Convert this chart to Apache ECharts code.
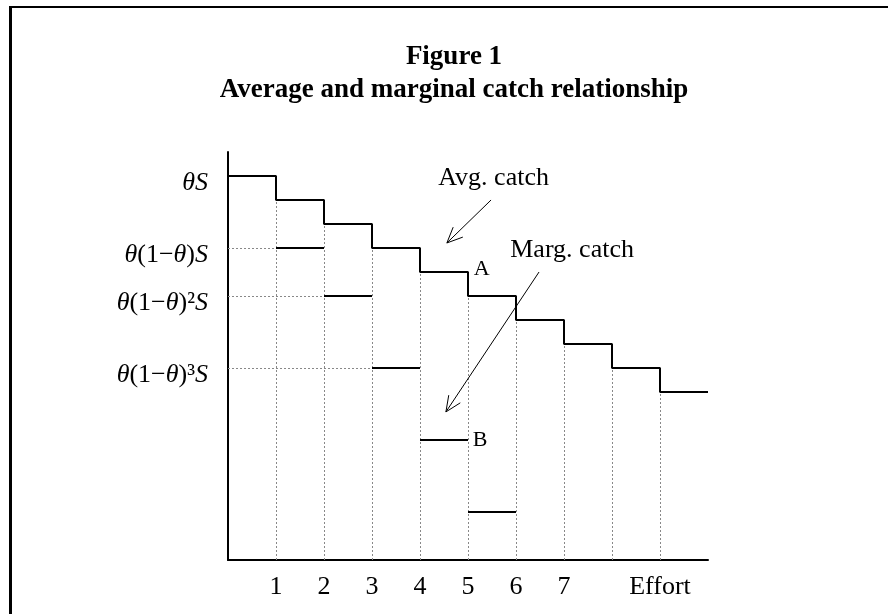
<!DOCTYPE html>
<html>
<head>
<meta charset="utf-8">
<script src="https://cdn.jsdelivr.net/npm/echarts@6/dist/echarts.min.js"></script>
<style>html,body{margin:0;padding:0;background:#fff;}#c{width:888px;height:614px;}</style>
</head>
<body>
<div id="c"></div>
<script>
// ---- data (arbitrary vertical units) ----
// average catch level on each effort interval [0-1], [1-2], ... [9-10]
var avgCatch = [16, 15, 14, 13, 12, 11, 10, 9, 8, 7];
// marginal catch level on intervals starting at effort 1,2,3,4,5
var margStart = [1, 2, 3, 4, 5];
var margCatch = [13, 11, 8, 5, 2];
// y tick labels (i = italic, r = upright)
var yTickValues = [16, 13, 11, 8];
var yTickLabels = [
  '{i|θS}',
  '{i|θ}{r|(1−}{i|θ}{r|)}{i|S}',
  '{i|θ}{r|(1−}{i|θ}{r|)²}{i|S}',
  '{i|θ}{r|(1−}{i|θ}{r|)³}{i|S}'
];
// x tick labels
var xTickValues = [1, 2, 3, 4, 5, 6, 7, 9];
var xTickLabels = ['1', '2', '3', '4', '5', '6', '7', 'Effort'];
// annotations (data coordinates)
var noteTexts = [
  {pos: [4.38, 15.92], text: 'Avg. catch', size: 26},
  {pos: [5.88, 12.92], text: 'Marg. catch', size: 26},
  {pos: [5.12, 12.10], text: 'A', size: 22},
  {pos: [5.10, 5.00], text: 'B', size: 22}
];
var noteArrows = [
  [5.48, 15.0, 4.56, 13.21],
  [6.48, 12.0, 4.54, 6.17]
];

var SERIF = '"Liberation Serif", "Times New Roman", serif';

// build step line points
var avgPts = [];
avgCatch.forEach(function (v, i) { avgPts.push([i, v]); avgPts.push([i + 1, v]); });
// marginal segments
var margSegs = margCatch.map(function (v, i) {
  return {coords: [[margStart[i], v], [margStart[i] + 1, v]]};
});
// vertical guides at each effort step
var vGuides = [];
for (var i = 1; i < avgCatch.length; i++) {
  vGuides.push({coords: [[i, 0], [i, avgCatch[i]]]});
}
// horizontal guides from axis to the labelled marginal segments
var hGuides = [];
for (var k = 0; k < 3; k++) {
  hGuides.push({coords: [[0, margCatch[k]], [margStart[k], margCatch[k]]]});
}

var chart = echarts.init(document.getElementById('c'), null, {renderer: 'canvas'});
chart.setOption({
  animation: false,
  backgroundColor: '#fff',
  title: {
    text: 'Figure 1\nAverage and marginal catch relationship',
    left: 449, top: 36, textAlign: 'center',
    textStyle: {fontFamily: SERIF, fontWeight: 'bold', fontSize: 27, lineHeight: 33, color: '#000'}
  },
  graphic: [
    {type: 'line', shape: {x1: 10, y1: 7, x2: 888, y2: 7}, style: {stroke: '#000', lineWidth: 2}},
    {type: 'line', shape: {x1: 10.5, y1: 6, x2: 10.5, y2: 614}, style: {stroke: '#000', lineWidth: 3}}
  ],
  grid: {left: 228, right: 180, top: 152, bottom: 54, containLabel: false},
  xAxis: {
    type: 'value', min: 0, max: 10, interval: 1,
    axisLine: {show: true, onZero: false, lineStyle: {color: '#000', width: 2}},
    axisTick: {show: false},
    splitLine: {show: false},
    axisLabel: {
      margin: 14, color: '#000', fontFamily: SERIF, fontSize: 26,
      formatter: function (v) { var j = xTickValues.indexOf(v); return j >= 0 ? xTickLabels[j] : ''; }
    }
  },
  yAxis: {
    type: 'value', min: 0, max: 17, interval: 1,
    axisLine: {show: true, onZero: false, lineStyle: {color: '#000', width: 2}},
    axisTick: {show: false},
    splitLine: {show: false},
    axisLabel: {
      margin: 20, color: '#000',
      formatter: function (v) { var j = yTickValues.indexOf(v); return j >= 0 ? yTickLabels[j] : ''; },
      rich: {
        i: {fontFamily: SERIF, fontStyle: 'italic', fontSize: 26, lineHeight: 30, color: '#000', padding: [14, 0, 0, 0]},
        r: {fontFamily: SERIF, fontSize: 26, lineHeight: 30, color: '#000', padding: [14, 0, 0, 0]}
      }
    }
  },
  series: [
    {
      type: 'lines', coordinateSystem: 'cartesian2d', z: 1,
      lineStyle: {color: '#888', width: 1, type: [2, 2], opacity: 1},
      data: vGuides.concat(hGuides)
    },
    {
      type: 'line', data: avgPts, symbol: 'none', z: 3,
      lineStyle: {color: '#000', width: 2}
    },
    {
      type: 'lines', coordinateSystem: 'cartesian2d', z: 3,
      lineStyle: {color: '#000', width: 2, opacity: 1},
      data: margSegs
    },
    {
      type: 'custom', z: 4,
      data: noteArrows,
      renderItem: function (params, api) {
        var p1 = api.coord([api.value(0), api.value(1)]);
        var p2 = api.coord([api.value(2), api.value(3)]);
        var ang = Math.atan2(p1[1] - p2[1], p1[0] - p2[0]);
        var L = 17, w = 0.42;
        var a1 = [p2[0] + L * Math.cos(ang + w), p2[1] + L * Math.sin(ang + w)];
        var a2 = [p2[0] + L * Math.cos(ang - w), p2[1] + L * Math.sin(ang - w)];
        return {
          type: 'group',
          children: [
            {type: 'line', shape: {x1: p1[0], y1: p1[1], x2: p2[0], y2: p2[1]}, style: {stroke: '#000', lineWidth: 1}},
            {type: 'polyline', shape: {points: [a1, p2, a2]}, style: {stroke: '#000', lineWidth: 1, fill: null}}
          ]
        };
      }
    },
    {
      type: 'custom', z: 4,
      data: noteTexts.map(function (n) { return [n.pos[0], n.pos[1]]; }),
      renderItem: function (params, api) {
        var n = noteTexts[params.dataIndex];
        var p = api.coord([api.value(0), api.value(1)]);
        return {
          type: 'text', x: p[0], y: p[1],
          style: {text: n.text, fill: '#000', font: n.size + 'px ' + SERIF,
                  textAlign: 'left', textVerticalAlign: 'middle', align: 'left', verticalAlign: 'middle'}
        };
      }
    }
  ]
});
</script>
</body>
</html>
